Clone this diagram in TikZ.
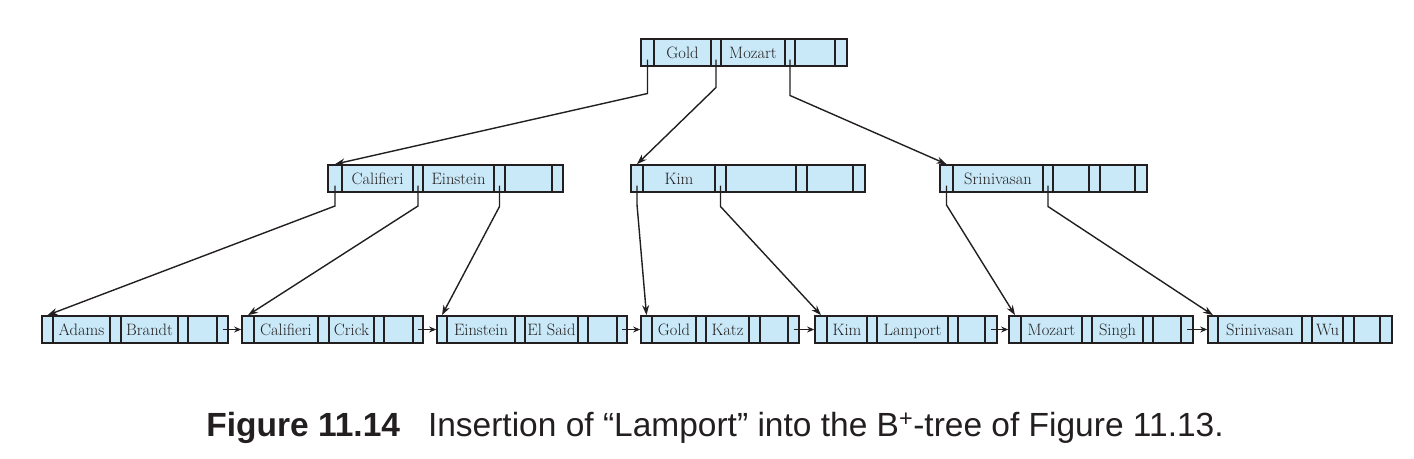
\documentclass[tikz,border=0pt]{standalone}
\usepackage{fontspec}
\newfontfamily\capfont{Liberation Sans}
\usetikzlibrary{arrows.meta,calc}
\definecolor{cellfill}{RGB}{201,233,248}
\definecolor{ink}{RGB}{35,31,32}
\tikzset{
  cellbox/.style={draw=ink, fill=cellfill, line width=1.7pt, minimum height=27pt,
    inner sep=0pt, text height=11.5pt, text depth=0pt,
    font=\fontsize{16.5}{19}\selectfont, text=ink},
  ptrline/.style={draw=ink, line width=1.4pt, -{Stealth[length=10pt,width=7pt]}},
  chainline/.style={draw=ink, line width=1.4pt, -{Stealth[length=7pt,width=6pt]}},
}
% name, y-center, boundaries x0..x7, key1, key2, key3
\newcommand\bnode[6]{%
  \def\xs{{#3}}%
  \foreach \i in {0,...,6}{%
    \pgfmathsetmacro\xa{\xs[\i]}%
    \pgfmathsetmacro\xb{\xs[\i+1]}%
    \pgfmathtruncatemacro\j{\i+1}%
    \node[cellbox, minimum width=\xb-\xa] (#1-\j) at ({(\xa+\xb)/2},#2)
      {\ifcase\i\or #4\or\or #5\or\or #6\fi};
  }%
}
\begin{document}
\begin{tikzpicture}[x=1pt,y=-1pt]
\useasboundingbox (0,0) rectangle (1414,458);
% root
\bnode{root}{52.5}{641,654,711,721,785,795,835,847}{Gold}{Mozart}{}
% middle level
\bnode{cm}{178.5}{328,342,413,423,494,505,552,563}{Califieri}{Einstein}{}
\bnode{km}{178.5}{631,643,715,726,796,807,853,865}{Kim}{}{}
\bnode{sm}{178.5}{940,953,1043,1053,1089,1100,1135,1147}{Srinivasan}{}{}
% leaves
\bnode{la}{329.5}{42,53,110,121,178,188,217,228}{Adams}{Brandt}{}
\bnode{lb}{329.5}{242,254,318,329,374,384,413,423}{Califieri}{Crick}{}
\bnode{lc}{329.5}{437,447,515,525,578,588,617,627}{Einstein}{El Said}{}
\bnode{ld}{329.5}{641,652,696,706,749,760,788,799}{Gold}{Katz}{}
\bnode{le}{329.5}{815,827,867,877,948,958,985,997}{Kim}{Lamport}{}
\bnode{lf}{329.5}{1009,1021,1082,1092,1143,1153,1181,1193}{Mozart}{Singh}{}
\bnode{lg}{329.5}{1208,1218,1302,1312,1343,1354,1380,1392}{Srinivasan}{Wu}{}
% root pointers
\draw[ptrline] ([yshift=-7pt]root-1.center) -- ([yshift=-41pt]root-1.center) -- (cm-1.north);
\draw[ptrline] ([yshift=-7pt]root-3.center) -- ([yshift=-35pt]root-3.center) -- (km-1.north);
\draw[ptrline] ([yshift=-7pt]root-5.center) -- ([yshift=-43pt]root-5.center) -- (sm-1.north);
% middle pointers
\draw[ptrline] ([yshift=-7pt]cm-1.center) -- ([yshift=-27.5pt]cm-1.center) -- (la-1.north);
\draw[ptrline] ([yshift=-7pt]cm-3.center) -- ([yshift=-27.5pt]cm-3.center) -- (lb-1.north);
\draw[ptrline] ([yshift=-7pt]cm-5.center) -- ([yshift=-28pt]cm-5.center) -- (lc-1.north);
\draw[ptrline] ([yshift=-7pt]km-1.center) -- ([yshift=-26pt]km-1.center) -- (ld-1.north);
\draw[ptrline] ([yshift=-7pt]km-3.center) -- ([yshift=-28pt]km-3.center) -- (le-1.north);
\draw[ptrline] ([yshift=-7pt]sm-1.center) -- ([yshift=-26.5pt]sm-1.center) -- (lf-1.north);
\draw[ptrline] ([yshift=-7pt]sm-3.center) -- ([yshift=-28pt]sm-3.center) -- (lg-1.north);
% leaf chain
\draw[chainline] (la-7.center) -- (lb-1.west);
\draw[chainline] (lb-7.center) -- (lc-1.west);
\draw[chainline] (lc-7.center) -- (ld-1.west);
\draw[chainline] (ld-7.center) -- (le-1.west);
\draw[chainline] (le-7.center) -- (lf-1.west);
\draw[chainline] (lf-7.center) -- (lg-1.west);
% caption
\node[anchor=base, font=\capfont\fontsize{33.5}{40}\selectfont, text=ink, inner sep=0pt] (cap) at (715,436)
  {\textbf{Figure 11.14}\hspace{28pt}Insertion of “Lamport” into the B\textsuperscript{+}-tree of Figure 11.13.};
\end{tikzpicture}
\end{document}
